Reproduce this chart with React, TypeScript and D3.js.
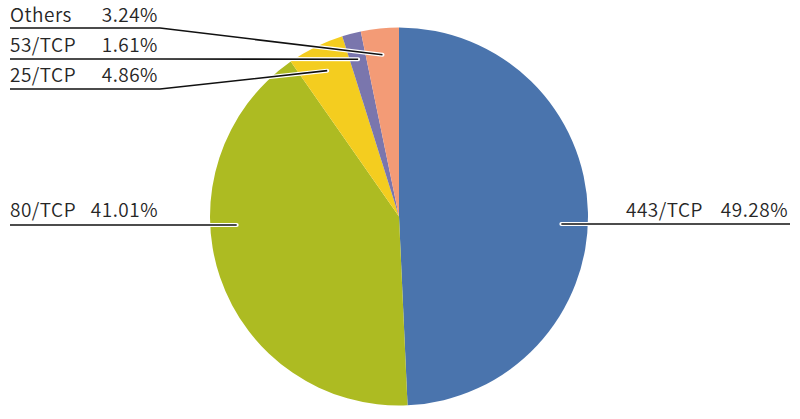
import React from "react";
import * as d3 from "d3";

const categories = ["443/TCP", "80/TCP", "25/TCP", "53/TCP", "Others"];
const values = [49.28, 41.01, 4.86, 1.61, 3.24];
const valueLabels = ["49.28%", "41.01%", "4.86%", "1.61%", "3.24%"];
const colors = ["#4a74ad", "#adbb22", "#f4cd1f", "#7a76ad", "#f39b76"];

// label layout: side, text baseline y, line y
const labelLayout = [
  { side: "right", baseline: 217, lineY: 224 },
  { side: "left", baseline: 217, lineY: 225 },
  { side: "left", baseline: 82, lineY: 89 },
  { side: "left", baseline: 52, lineY: 59 },
  { side: "left", baseline: 22, lineY: 28 },
];

export default function App() {
  const W = 800, H = 419;
  const cx = 399, cy = 216.5, R = 189;
  const pie = d3.pie<number>().sort(null).value((d) => d);
  const arcs = pie(values);
  const arc = d3.arc<d3.PieArcDatum<number>>().innerRadius(0).outerRadius(R);
  const rIn = R * 0.86;
  const font = "'Noto Sans CJK JP', 'Noto Sans', sans-serif";

  return (
    <svg width={W} height={H} style={{ position: "absolute", left: 0, top: 0, background: "#fff" }}>
      <g transform={`translate(${cx},${cy})`}>
        {arcs.map((a, i) => (
          <path key={i} d={arc(a) || ""} fill={colors[i]} />
        ))}
      </g>
      {arcs.map((a, i) => {
        const L = labelLayout[i];
        const mid = (a.startAngle + a.endAngle) / 2;
        let pts: [number, number][];
        if (i < 2) {
          const dy = L.lineY - cy;
          const dx = Math.sqrt(rIn * rIn - dy * dy) * (L.side === "right" ? 1 : -1);
          const ex = cx + dx;
          pts = L.side === "right" ? [[ex, L.lineY], [790, L.lineY]] : [[10, L.lineY], [ex, L.lineY]];
        } else {
          const ex = cx + rIn * Math.sin(mid);
          const ey = cy - rIn * Math.cos(mid);
          pts = [[10, L.lineY], [160, L.lineY], [ex, ey]];
        }
        const line = d3.line()(pts) || "";
        return (
          <g key={i}>
            <path d={line} fill="none" stroke="#fff" strokeWidth={4} strokeLinejoin="round" strokeLinecap="round" />
            <path d={line} fill="none" stroke="#111" strokeWidth={1.6} />
          </g>
        );
      })}
      {arcs.map((a, i) => {
        const L = labelLayout[i];
        const isRight = L.side === "right";
        return (
          <g key={"t" + i} fontFamily={font} fontSize={19} fontWeight={350} letterSpacing={0.5} fill="#262626">
            <text x={isRight ? 626 : 10} y={L.baseline}>{categories[i]}</text>
            <text x={isRight ? 788 : 158} y={L.baseline} textAnchor="end">{valueLabels[i]}</text>
          </g>
        );
      })}
    </svg>
  );
}
